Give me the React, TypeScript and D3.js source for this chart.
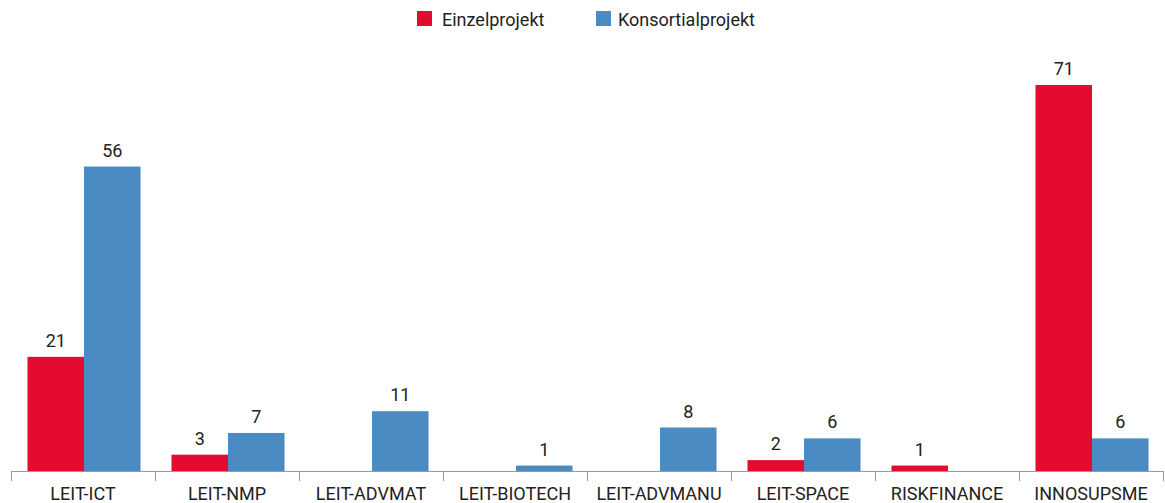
import React from 'react'
import * as d3 from 'd3'

const categories = ['LEIT-ICT', 'LEIT-NMP', 'LEIT-ADVMAT', 'LEIT-BIOTECH', 'LEIT-ADVMANU', 'LEIT-SPACE', 'RISKFINANCE', 'INNOSUPSME']
const einzel = [21, 3, 0, 0, 0, 2, 1, 71]
const konsortial = [56, 7, 11, 1, 8, 6, 0, 6]
const seriesNames = ['Einzelprojekt', 'Konsortialprojekt']
const colors = ['#E30B2F', '#4A8BC4']

const width = 1165,
	height = 503

const App = () => {
	const left = 11,
		right = 1163,
		baseline = 471

	const x = d3.scaleBand().domain(categories).range([left, right]).paddingInner(0).paddingOuter(0)
	const inner = d3
		.scaleBand()
		.domain(seriesNames)
		.range([0, x.bandwidth()])
		.paddingOuter(0.274)
		.paddingInner(0)
	const y = d3.scaleLinear().domain([0, 71]).range([baseline, 85])

	const series = [einzel, konsortial]
	const font = 'Roboto, "DejaVu Sans", sans-serif'

	return (
		<svg width={width} height={height} style={{ position: 'absolute', left: 0, top: 0 }}>
			{/* legend */}
			<g fontFamily={font} fontSize={18} fill="#222">
				<rect x={417} y={11} width={15} height={15} fill={colors[0]} />
				<text x={442} y={26}>{seriesNames[0]}</text>
				<rect x={596} y={11} width={15} height={15} fill={colors[1]} />
				<text x={618} y={26}>{seriesNames[1]}</text>
			</g>
			{/* bars */}
			{series.map((vals, si) =>
				vals.map((v, i) =>
					v > 0 ? (
						<g key={si + '-' + i}>
							<rect
								x={x(categories[i])! + inner(seriesNames[si])! + 1}
								y={y(v)}
								width={inner.bandwidth()}
								height={baseline - y(v)}
								fill={colors[si]}
							/>
							<text
								x={x(categories[i])! + inner(seriesNames[si])! + 1 + inner.bandwidth() / 2}
								y={y(v) - 10}
								textAnchor="middle"
								fontFamily={font}
								fontSize={18}
								fill="#222"
							>
								{v}
							</text>
						</g>
					) : null
				)
			)}
			{/* axis */}
			<line x1={left} x2={right} y1={baseline + 0.5} y2={baseline + 0.5} stroke="#999" />
			{d3.range(categories.length + 1).map((i) => {
				const tx = Math.round(left + i * x.step()) + 0.5
				return <line key={i} x1={tx} x2={tx} y1={baseline} y2={baseline + 10} stroke="#999" />
			})}
			{categories.map((c) => (
				<text
					key={c}
					x={x(c)! + x.bandwidth() / 2}
					y={500}
					textAnchor="middle"
					fontFamily={font}
					fontSize={18}
					fill="#222"
				>
					{c}
				</text>
			))}
		</svg>
	)
}

export default App
